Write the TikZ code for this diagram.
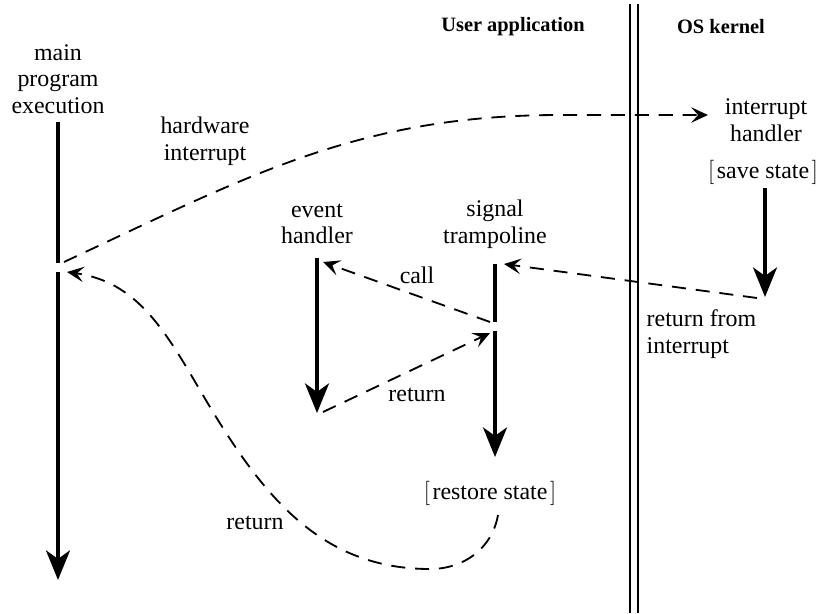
\documentclass[tikz,border=0pt]{standalone}
\usepackage{fontspec}
\setmainfont{Liberation Serif}
\usetikzlibrary{arrows.meta, positioning, calc}

\begin{document}
\begin{tikzpicture}[
  x=0.025cm, y=0.025cm,
  lbl/.style={font=\fontsize{17}{19}\selectfont, align=center, inner sep=1pt},
  hdr/.style={font=\fontsize{14.5}{17}\selectfont\bfseries, inner sep=1pt},
  tline/.style={line width=2.8pt},
  tarrow/.style={tline, -{Stealth[length=21pt, width=17pt, inset=6pt]}},
  flow/.style={line width=1.3pt, dash pattern=on 10pt off 7pt,
    -{Stealth[length=12pt, width=11pt, inset=5pt]}},
  divider/.style={line width=1.3pt, double, double distance=0.15cm},
]
\useasboundingbox (0,0) rectangle (819,-613);

% headings and divider
\node[hdr] (userhd) at (513,-27) {User application};
\node[hdr] (oshd) at (721,-27) {OS kernel};
\draw[divider] (634,-4) -- (634,-613);

% labels
\node[lbl] (mainlbl) at (58,-79) {main\\program\\execution};
\node[lbl] (hwlbl) at (205,-141) {hardware\\interrupt};
\node[lbl] (ihlbl) at (766,-120) {interrupt\\handler};
\node[lbl] (save) at (763,-172) {$\big[\mkern2mu$save state$\mkern2mu\big]$};
\node[lbl] (ehlbl) at (317,-224) {event\\handler};
\node[lbl] (stlbl) at (495,-224) {signal\\trampoline};
\node[lbl] (restore) at (490,-493) {$\big[\mkern2mu$restore state$\mkern2mu\big]$};
\node[lbl] (calllbl) at (417,-275) {call};
\node[lbl] (retlbl) at (417,-395) {return};
\node[lbl] (retmain) at (255,-523) {return};
\node[lbl, anchor=west, align=left] (rfilbl) at (645,-334) {return from\\interrupt};

% timelines
\coordinate (m0) at (58,-122);
\coordinate (m1) at (58,-263);
\coordinate (m2) at (58,-272);
\coordinate (m3) at (58,-580);
\coordinate (e0) at (317,-258);
\coordinate (e1) at (317,-413);
\coordinate (s0) at (495,-264);
\coordinate (s1) at (495,-322);
\coordinate (s2) at (495,-331);
\coordinate (s3) at (495,-457);
\coordinate (k0) at (765,-188);
\coordinate (k1) at (765,-297);

\draw[tline] (m0) -- (m1);
\draw[tarrow] (m2) -- (m3);
\draw[tarrow] (e0) -- (e1);
\draw[tline] (s0) -- (s1);
\draw[tarrow] (s2) -- (s3);
\draw[tarrow] (k0) -- (k1);

% control transfers
\coordinate (hw0) at (64,-262);
\coordinate (hwbend) at (560,-115);
\coordinate (hw1) at (708,-115);
\draw[flow] (hw0) to[out=25, in=180] (hwbend) -- (hw1);

\draw[flow] (757,-298) coordinate (k2) -- (504,-264) coordinate (s4);
\draw[flow] (490,-322) coordinate (s5) -- (323,-262) coordinate (e2);
\draw[flow] (323,-412) coordinate (e3) -- (490,-333) coordinate (s6);

\coordinate (r0) at (498,-515);
\coordinate (rlow) at (430,-569);
\coordinate (rmid) at (210,-407);
\coordinate (m4) at (67,-272);
\draw[flow] (r0) to[out=-100, in=0] (rlow) to[out=180, in=-59] (rmid)
  to[out=121, in=-8] (m4);

\end{tikzpicture}
\end{document}
